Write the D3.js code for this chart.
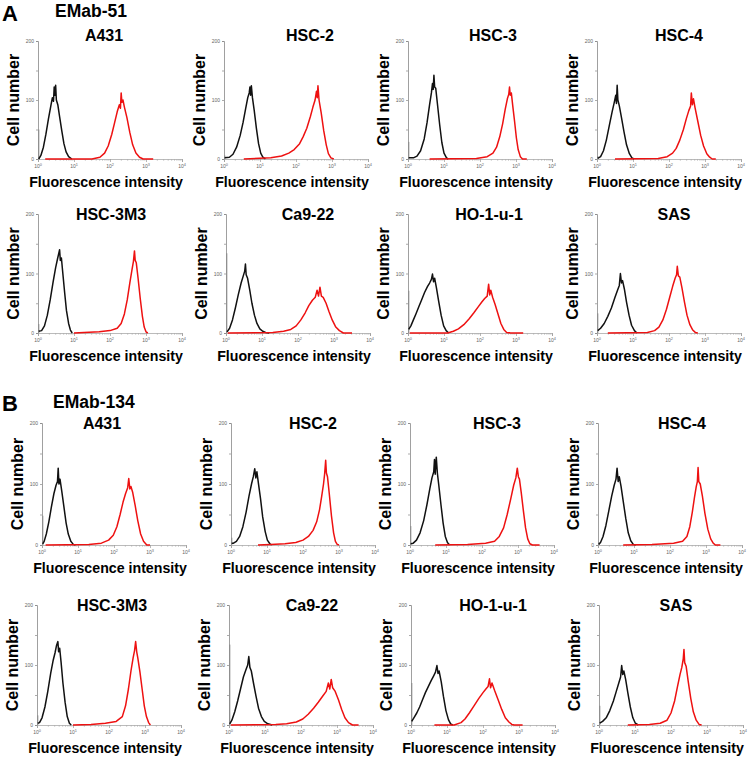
<!DOCTYPE html>
<html><head><meta charset="utf-8">
<script src="https://cdn.jsdelivr.net/npm/d3@7"></script>
<style>body{margin:0;background:#fff}svg{display:block}</style>
</head><body>
<svg id="c" width="750" height="759"></svg>
<script>
// ---------------- DATA ----------------
const sections = ["EMab-51", "EMab-134"];
const sectionLetters = ["A", "B"];
const cellLines = ["A431", "HSC-2", "HSC-3", "HSC-4", "HSC-3M3", "Ca9-22", "HO-1-u-1", "SAS"];
const yTickValues = [0, 50, 100, 150, 200];
const yTickLabels = ["0", "", "100", "", "200"];
const xDecades = [0, 1, 2, 3, 4];
const yLabel = "Cell number";
const xLabel = "Fluorescence intensity";

// first-channel pile-up (count at 10^0)
const firstBin51 = [50, 6, 29, 5, 15, 134, 71, 33];
const firstBin134 = [48, 12, 31, 5, 16, 134, 70, 32];

// control (black) histograms: [log10 intensity, cell count]
const emab51Control = [
 [[0.02,0],[0.08,6],[0.15,20],[0.22,42],[0.29,68],[0.35,88],[0.40,104],[0.43,98],[0.45,122],[0.47,108],[0.49,125],[0.51,100],[0.55,92],[0.60,72],[0.66,48],[0.72,26],[0.78,12],[0.85,4],[0.94,0]],
 [[0.02,2],[0.15,3],[0.25,8],[0.35,20],[0.45,40],[0.53,62],[0.6,85],[0.66,104],[0.7,112],[0.72,122],[0.74,108],[0.76,124],[0.79,104],[0.84,82],[0.9,52],[0.96,26],[1.02,10],[1.08,3],[1.15,0]],
 [[0.02,2],[0.15,2],[0.25,5],[0.35,14],[0.45,34],[0.53,62],[0.6,92],[0.65,112],[0.68,128],[0.7,118],[0.72,142],[0.74,122],[0.77,120],[0.82,92],[0.88,58],[0.94,28],[1.0,10],[1.07,2],[1.12,0]],
 [[0.02,1],[0.1,4],[0.18,14],[0.26,32],[0.34,56],[0.42,80],[0.48,96],[0.52,108],[0.54,94],[0.56,125],[0.58,100],[0.62,90],[0.68,70],[0.75,46],[0.82,24],[0.9,9],[0.97,2],[1.03,0]],
 [[0.02,3],[0.1,4],[0.18,12],[0.26,30],[0.34,56],[0.42,86],[0.49,110],[0.54,124],[0.57,132],[0.6,140],[0.62,122],[0.65,126],[0.69,100],[0.74,68],[0.79,38],[0.85,16],[0.9,5],[0.95,0]],
 [[0.03,2],[0.1,8],[0.18,22],[0.26,42],[0.34,64],[0.42,84],[0.48,96],[0.52,104],[0.54,116],[0.56,98],[0.6,92],[0.66,72],[0.72,50],[0.79,30],[0.86,16],[0.94,7],[1.02,3],[1.1,1],[1.2,0]],
 [[0.02,6],[0.08,12],[0.15,22],[0.22,32],[0.3,44],[0.38,56],[0.46,68],[0.54,78],[0.6,84],[0.65,90],[0.68,99],[0.71,86],[0.74,92],[0.79,76],[0.85,54],[0.92,30],[0.99,12],[1.06,4],[1.13,0]],
 [[0.02,4],[0.1,8],[0.2,16],[0.3,28],[0.4,42],[0.5,60],[0.57,72],[0.62,80],[0.65,100],[0.68,84],[0.71,88],[0.76,74],[0.82,52],[0.89,30],[0.96,13],[1.04,4],[1.11,0]]
];
// EMab-51 stained (red) histograms
const emab51Stained = [
 [[0.2,0],[1.5,0],[1.72,3],[1.85,10],[1.95,22],[2.05,42],[2.13,62],[2.2,80],[2.26,92],[2.29,86],[2.31,112],[2.33,96],[2.36,100],[2.4,88],[2.47,70],[2.55,45],[2.63,24],[2.72,10],[2.82,3],[2.92,0],[3.2,0]],
 [[0.55,0],[1.3,2],[1.6,5],[1.8,10],[1.95,16],[2.1,26],[2.2,38],[2.3,52],[2.4,72],[2.47,88],[2.53,100],[2.57,115],[2.59,104],[2.61,124],[2.64,100],[2.7,78],[2.77,48],[2.84,24],[2.9,9],[2.97,2],[3.05,0]],
 [[0.6,0],[1.9,1],[2.2,4],[2.36,10],[2.46,20],[2.55,38],[2.63,60],[2.7,84],[2.76,102],[2.8,110],[2.82,122],[2.84,108],[2.87,112],[2.91,90],[2.96,64],[3.01,36],[3.06,16],[3.12,4],[3.18,0],[3.3,0]],
 [[0.5,0],[1.7,1],[1.95,4],[2.1,10],[2.2,18],[2.3,32],[2.4,50],[2.48,68],[2.55,82],[2.6,90],[2.62,112],[2.65,92],[2.68,102],[2.72,88],[2.8,64],[2.88,40],[2.96,22],[3.05,9],[3.13,3],[3.2,0],[3.3,0]],
 [[1.0,0],[1.7,2],[2.0,4],[2.2,8],[2.31,16],[2.4,32],[2.48,56],[2.55,84],[2.61,106],[2.65,120],[2.68,138],[2.7,122],[2.73,118],[2.78,92],[2.84,58],[2.9,28],[2.95,10],[3.0,2],[3.05,0]],
 [[0.05,0],[1.3,1],[1.6,3],[1.8,6],[1.95,12],[2.08,22],[2.2,34],[2.3,46],[2.4,55],[2.48,60],[2.53,72],[2.57,62],[2.61,77],[2.65,62],[2.7,60],[2.78,50],[2.86,36],[2.95,22],[3.05,10],[3.15,4],[3.26,0],[3.5,0]],
 [[0.05,0],[1.1,0],[1.26,3],[1.4,7],[1.55,14],[1.7,24],[1.83,34],[1.95,44],[2.05,52],[2.13,58],[2.2,62],[2.24,82],[2.27,64],[2.3,72],[2.35,60],[2.42,48],[2.5,32],[2.58,16],[2.66,6],[2.74,1],[2.85,0],[3.2,0]],
 [[0.3,0],[1.4,1],[1.6,4],[1.72,10],[1.83,22],[1.93,40],[2.02,60],[2.1,78],[2.17,92],[2.21,98],[2.23,112],[2.26,96],[2.3,94],[2.36,76],[2.43,52],[2.5,30],[2.58,14],[2.66,5],[2.73,1],[2.8,0]]
];
const emab134Control = [
 [[0.02,2],[0.06,6],[0.12,18],[0.19,38],[0.26,62],[0.33,84],[0.39,98],[0.43,104],[0.45,126],[0.47,100],[0.5,108],[0.55,88],[0.61,62],[0.67,36],[0.73,18],[0.8,6],[0.87,1],[0.93,0]],
 [[0.02,3],[0.07,3],[0.15,6],[0.24,14],[0.33,30],[0.42,54],[0.5,80],[0.57,100],[0.62,112],[0.66,125],[0.69,110],[0.72,120],[0.76,102],[0.82,76],[0.88,46],[0.95,22],[1.01,8],[1.08,2],[1.13,0]],
 [[0.02,2],[0.09,3],[0.18,8],[0.28,20],[0.38,40],[0.47,66],[0.55,92],[0.61,110],[0.66,120],[0.68,140],[0.7,116],[0.73,144],[0.76,118],[0.8,98],[0.86,66],[0.92,36],[0.98,14],[1.04,4],[1.1,0]],
 [[0.02,1],[0.07,4],[0.14,14],[0.22,32],[0.3,56],[0.38,80],[0.45,98],[0.5,108],[0.53,126],[0.56,104],[0.59,112],[0.64,96],[0.7,72],[0.77,44],[0.84,20],[0.91,7],[0.98,1],[1.05,0]],
 [[0.02,3],[0.07,4],[0.14,12],[0.22,30],[0.3,56],[0.38,86],[0.45,108],[0.5,120],[0.54,132],[0.58,139],[0.6,122],[0.63,128],[0.67,104],[0.72,70],[0.78,38],[0.84,14],[0.9,3],[0.95,0]],
 [[0.02,2],[0.08,8],[0.16,22],[0.24,40],[0.32,60],[0.4,80],[0.47,92],[0.52,100],[0.55,114],[0.58,96],[0.62,90],[0.68,70],[0.75,48],[0.82,28],[0.9,14],[0.98,6],[1.08,2],[1.2,0]],
 [[0.02,6],[0.08,12],[0.16,20],[0.24,30],[0.32,42],[0.4,54],[0.48,64],[0.56,74],[0.63,82],[0.68,88],[0.72,99],[0.75,86],[0.78,90],[0.84,72],[0.9,48],[0.97,24],[1.04,9],[1.1,2],[1.16,0]],
 [[0.02,3],[0.1,6],[0.2,12],[0.3,24],[0.4,40],[0.48,56],[0.55,70],[0.6,80],[0.63,99],[0.66,84],[0.69,90],[0.74,76],[0.8,54],[0.87,30],[0.94,12],[1.01,3],[1.09,0]]
];
const emab134Stained = [
 [[0.1,0],[1.3,1],[1.65,3],[1.85,8],[1.98,16],[2.08,30],[2.17,50],[2.25,70],[2.32,84],[2.38,94],[2.41,109],[2.44,92],[2.47,96],[2.52,86],[2.59,64],[2.66,40],[2.74,18],[2.82,6],[2.91,0],[3.0,0]],
 [[0.75,0],[1.1,1],[1.5,2],[1.8,4],[2.0,8],[2.15,14],[2.28,24],[2.38,38],[2.46,58],[2.52,80],[2.57,100],[2.6,116],[2.63,139],[2.65,118],[2.68,112],[2.73,84],[2.79,48],[2.85,20],[2.9,6],[2.95,1],[3.0,0]],
 [[0.7,0],[1.6,1],[2.1,3],[2.35,6],[2.48,14],[2.6,28],[2.7,50],[2.8,76],[2.88,98],[2.94,110],[2.98,126],[3.01,112],[3.04,108],[3.09,86],[3.15,56],[3.21,28],[3.27,10],[3.33,2],[3.4,0],[3.6,0]],
 [[0.7,0],[1.5,1],[2.1,3],[2.35,6],[2.47,14],[2.55,30],[2.62,54],[2.68,78],[2.73,96],[2.76,104],[2.78,127],[2.8,104],[2.84,100],[2.9,80],[2.97,52],[3.05,26],[3.13,10],[3.2,3],[3.26,0],[3.4,0]],
 [[1.0,0],[1.5,1],[1.9,3],[2.2,6],[2.37,14],[2.46,32],[2.54,60],[2.61,90],[2.67,112],[2.71,124],[2.74,139],[2.77,122],[2.8,112],[2.86,88],[2.92,60],[2.98,32],[3.04,14],[3.1,4],[3.15,0]],
 [[0.05,0],[1.3,1],[1.6,2],[1.87,5],[2.05,10],[2.2,18],[2.35,28],[2.48,38],[2.6,48],[2.7,56],[2.76,70],[2.8,60],[2.84,76],[2.88,62],[2.95,56],[3.04,42],[3.13,26],[3.22,12],[3.32,4],[3.43,0],[3.6,0]],
 [[0.65,0],[1.2,0],[1.39,4],[1.5,10],[1.62,20],[1.75,32],[1.88,44],[2.0,54],[2.08,60],[2.14,64],[2.18,77],[2.21,62],[2.25,70],[2.32,58],[2.42,42],[2.52,26],[2.62,12],[2.72,5],[2.8,1],[2.87,0],[3.1,0]],
 [[0.8,0],[1.4,1],[1.7,3],[1.89,8],[2.0,20],[2.1,40],[2.18,64],[2.25,84],[2.3,96],[2.34,110],[2.36,126],[2.38,104],[2.42,98],[2.48,72],[2.55,44],[2.62,22],[2.7,8],[2.78,1],[2.85,0]]
];

// ---------------- LAYOUT ----------------
const PLOT_W = 144;
const rowAxisX = [[38,224,408,597],[38,226,408,597],[42,231,410,598],[37,229,411,599]];
const rowY0 = [159,333,545,725];
const rowY200 = [41,214,423,605];
const titleDx = [[66,86,85,82],[73,82,81,77],[60,82,87,84],[75,83,82,77]];
const titleY = [41,220,429,611];
const headerY = [{letter:21, name:17, nameX:55}, {letter:411, name:408, nameX:53}];
const FONT = "'Liberation Sans', Arial, Helvetica, sans-serif";
const RED = "#ee1111";

const svg = d3.select("#c");
const datasets = [
  {control: emab51Control, stained: emab51Stained, spikes: firstBin51},
  {control: emab134Control, stained: emab134Stained, spikes: firstBin134}
];

sections.forEach((secName, s) => {
  const h = headerY[s];
  svg.append("text").attr("x", 2).attr("y", h.letter)
    .attr("font-family", FONT).attr("font-weight", "bold").attr("font-size", 22)
    .text(sectionLetters[s]);
  svg.append("text").attr("x", h.nameX).attr("y", h.name)
    .attr("font-family", FONT).attr("font-weight", "bold").attr("font-size", 17.5)
    .text(secName);

  cellLines.forEach((cl, i) => {
    const row = s * 2 + Math.floor(i / 4), col = i % 4;
    const ax = rowAxisX[row][col];
    const x = d3.scaleLog().domain([1, 1e4]).range([ax, ax + PLOT_W]);
    const y = d3.scaleLinear().domain([0, 200]).range([rowY0[row], rowY200[row]]);
    const g = svg.append("g");

    // Y axis
    const yAx = g.append("g").attr("transform", `translate(${ax},0)`)
      .call(d3.axisLeft(y).tickValues(yTickValues).tickSize(2).tickPadding(2)
        .tickFormat((d, j) => yTickLabels[j]));
    yAx.select(".domain").attr("stroke", "#888").attr("stroke-width", 0.8);
    yAx.selectAll(".tick line").attr("stroke", "#888").attr("stroke-width", 0.7);
    yAx.selectAll(".tick text").attr("font-family", FONT).attr("font-size", 5).attr("fill", "#666");

    // X axis (major + minor log ticks)
    const minor = [];
    for (let k = 0; k < 4; k++) for (let m = 2; m <= 9; m++) minor.push(m * Math.pow(10, k));
    const xAx = g.append("g").attr("transform", `translate(0,${rowY0[row]})`)
      .call(d3.axisBottom(x).tickValues(xDecades.map(e => Math.pow(10, e))).tickSize(3).tickFormat(""));
    xAx.select(".domain").attr("stroke", "#aaa").attr("stroke-width", 0.8);
    xAx.selectAll(".tick line").attr("stroke", "#999").attr("stroke-width", 0.7);
    const xMin = g.append("g").attr("transform", `translate(0,${rowY0[row]})`)
      .call(d3.axisBottom(x).tickValues(minor).tickSize(1.8).tickFormat(""));
    xMin.select(".domain").remove();
    xMin.selectAll(".tick line").attr("stroke", "#aaa").attr("stroke-width", 0.6);
    xDecades.forEach(e => {
      const t = g.append("text").attr("x", x(Math.pow(10, e))).attr("y", rowY0[row] + 9)
        .attr("text-anchor", "middle").attr("font-family", FONT).attr("font-size", 5).attr("fill", "#666");
      t.append("tspan").text("10");
      t.append("tspan").attr("dy", -1.8).attr("font-size", 3.8).text(e);
    });

    // first-channel spike
    const sp = datasets[s].spikes[i];
    g.append("line").attr("x1", x(1) + 0.8).attr("x2", x(1) + 0.8)
      .attr("y1", y(0)).attr("y2", y(sp)).attr("stroke", "#888").attr("stroke-width", 1);

    const line = d3.line().x(d => x(Math.pow(10, d[0]))).y(d => y(d[1]));
    g.append("path").datum(datasets[s].control[i]).attr("d", line)
      .attr("fill", "none").attr("stroke", "#111").attr("stroke-width", 1.5).attr("stroke-linejoin", "round");
    g.append("path").datum(datasets[s].stained[i]).attr("d", line)
      .attr("fill", "none").attr("stroke", RED).attr("stroke-width", 1.5).attr("stroke-linejoin", "round");

    // titles and axis labels
    g.append("text").attr("x", ax + titleDx[row][col]).attr("y", titleY[row])
      .attr("text-anchor", "middle").attr("font-family", FONT).attr("font-weight", "bold").attr("font-size", 16)
      .text(cl);
    const cy = (rowY0[row] + rowY200[row]) / 2;
    g.append("text").attr("transform", `translate(${ax - 19},${cy}) rotate(-90)`)
      .attr("text-anchor", "middle").attr("font-family", FONT).attr("font-weight", "bold").attr("font-size", 16)
      .text(yLabel);
    g.append("text").attr("x", ax + 68).attr("y", rowY0[row] + 28)
      .attr("text-anchor", "middle").attr("font-family", FONT).attr("font-weight", "bold").attr("font-size", 14.2)
      .text(xLabel);
  });
});
</script>
</body></html>
